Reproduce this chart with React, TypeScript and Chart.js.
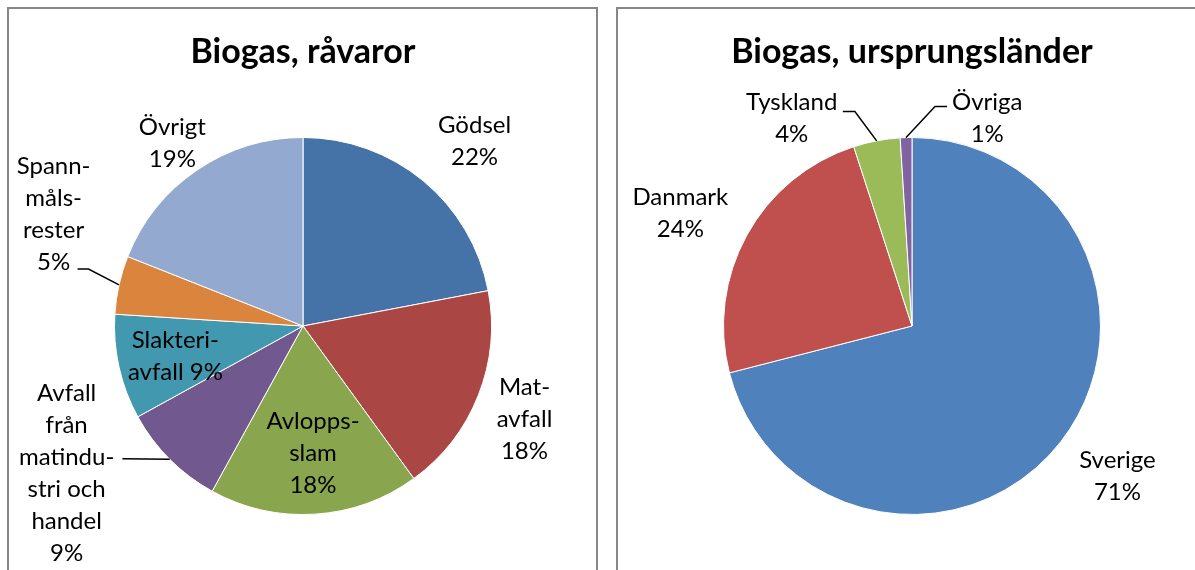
import React, { useEffect, useRef } from "react";
import { Chart, registerables } from "chart.js";

Chart.register(...registerables);

// ---------- data ----------
const leftTitle = "Biogas, råvaror";
const leftCategories = [
  "Gödsel",
  "Matavfall",
  "Avloppsslam",
  "Avfall från matindustri och handel",
  "Slakteriavfall",
  "Spannmålsrester",
  "Övrigt",
];
const leftValues = [22, 18, 18, 9, 9, 5, 19];
const leftLabelLines = [
  ["Gödsel", "{p}"],
  ["Mat-", "avfall", "{p}"],
  ["Avlopps-", "slam", "{p}"],
  ["Avfall", "från", "matindu-", "stri och", "handel", "{p}"],
  ["Slakteri-", "avfall {p}"],
  ["Spann-", "måls-", "rester", "{p}"],
  ["Övrigt", "{p}"],
];

const rightTitle = "Biogas, ursprungsländer";
const rightCategories = ["Sverige", "Danmark", "Tyskland", "Övriga"];
const rightValues = [71, 24, 4, 1];
const rightLabelLines = [
  ["Sverige", "{p}"],
  ["Danmark", "{p}"],
  ["Tyskland", "{p}"],
  ["Övriga", "{p}"],
];

// ---------- styles / layout ----------
const leftColors = ["#4573A7", "#AA4644", "#89A54E", "#71588F", "#4198AF", "#DB843D", "#93A9CF"];
const rightColors = ["#4F81BD", "#C0504D", "#9BBB59", "#8064A2"];

// label centres, in units of the pie radius, relative to the pie centre
const leftLabelPos: [number, number][] = [
  [0.91, -0.979],
  [1.175, 0.497],
  [0.053, 0.677],
  [-1.254, 0.783],
  [-0.677, 0.161],
  [-1.323, -0.593],
  [-0.693, -0.971],
];
const leftLeaders: ([number, number][] | null)[] = [
  null,
  null,
  null,
  [[-0.958, 0.704]],
  null,
  [
    [-1.196, -0.302],
    [-1.138, -0.302],
  ],
  null,
];
const rightLabelPos: [number, number][] = [
  [1.09, 0.798],
  [-1.229, -0.596],
  [-0.638, -1.104],
  [0.399, -1.104],
];
const rightLeaders: ([number, number][] | null)[] = [
  null,
  null,
  [
    [-0.367, -1.138],
    [-0.303, -1.138],
  ],
  [
    [0.186, -1.165],
    [0.122, -1.165],
  ],
];

const FONT = "Lato, 'Open Sans', 'DejaVu Sans', sans-serif";

const sliceLabels = {
  id: "sliceLabels",
  afterDatasetsDraw(chart: any, _args: any, opts: any) {
    const meta = chart.getDatasetMeta(0);
    const ctx = chart.ctx as CanvasRenderingContext2D;
    const values = chart.data.datasets[0].data as number[];
    const total = values.reduce((a, b) => a + b, 0);
    ctx.save();
    ctx.font = `${opts.size}px ${FONT}`;
    ctx.fillStyle = "#000";
    ctx.textAlign = "center";
    ctx.textBaseline = "middle";
    ctx.strokeStyle = "#000";
    ctx.lineWidth = 1.5;
    meta.data.forEach((arc: any, i: number) => {
      const p = arc.getProps(["x", "y", "startAngle", "endAngle", "outerRadius"], true);
      const R = p.outerRadius;
      const mid = (p.startAngle + p.endAngle) / 2;
      const pct = Math.round((values[i] / total) * 100) + "%";
      const lines: string[] = opts.lines[i].map((s: string) => s.replace("{p}", pct));
      const [ux, uy] = opts.positions[i];
      const cx = p.x + ux * R;
      const cy = p.y + uy * R;
      const lh = opts.lineHeight;
      lines.forEach((ln, k) => {
        ctx.fillText(ln, cx, cy + (k - (lines.length - 1) / 2) * lh);
      });
      const leader = opts.leaders[i];
      if (leader) {
        ctx.beginPath();
        ctx.moveTo(p.x + leader[0][0] * R, p.y + leader[0][1] * R);
        for (let k = 1; k < leader.length; k++) {
          ctx.lineTo(p.x + leader[k][0] * R, p.y + leader[k][1] * R);
        }
        ctx.lineTo(p.x + Math.cos(mid) * R, p.y + Math.sin(mid) * R);
        ctx.stroke();
      }
    });
    ctx.restore();
  },
};

type PieProps = {
  title: string;
  categories: string[];
  values: number[];
  colors: string[];
  lines: string[][];
  positions: [number, number][];
  leaders: ([number, number][] | null)[];
  width: number;
  height: number;
  padLeft: number;
  padRight: number;
  padBottom: number;
};

function PieChart(props: PieProps) {
  const ref = useRef<HTMLCanvasElement | null>(null);
  useEffect(() => {
    if (!ref.current) return;
    const chart = new Chart(ref.current, {
      type: "pie",
      data: {
        labels: props.categories,
        datasets: [
          {
            data: props.values,
            backgroundColor: props.colors,
            borderColor: "#ffffff",
            borderWidth: 1,
          },
        ],
      },
      options: {
        animation: false,
        responsive: false,
        devicePixelRatio: 1,
        events: [],
        layout: {
          padding: { left: props.padLeft, right: props.padRight, top: 0, bottom: props.padBottom },
        },
        plugins: {
          legend: { display: false },
          tooltip: { enabled: false },
          title: {
            display: true,
            text: props.title,
            color: "#000",
            font: { family: FONT, size: 34, weight: "bold", lineHeight: 1.2 },
            padding: { top: 22.6, bottom: 64.6 },
          },
          sliceLabels: {
            size: 24,
            lineHeight: 32,
            lines: props.lines,
            positions: props.positions,
            leaders: props.leaders,
          },
        } as any,
      },
      plugins: [sliceLabels],
    });
    return () => chart.destroy();
  }, []);
  return (
    <canvas
      ref={ref}
      width={props.width}
      height={props.height}
      style={{ display: "block", width: props.width, height: props.height }}
    />
  );
}

export default function App() {
  useEffect(() => {
    document.body.style.overflow = "hidden";
  }, []);
  const border = "2px solid #878787";
  return (
    <div>
      <div
        style={{
          position: "absolute",
          left: 7,
          top: 7,
          width: 587,
          height: 561,
          borderTop: border,
          borderLeft: border,
          borderRight: border,
          background: "#fff",
        }}
      >
        <PieChart
          title={leftTitle}
          categories={leftCategories}
          values={leftValues}
          colors={leftColors}
          lines={leftLabelLines}
          positions={leftLabelPos}
          leaders={leftLeaders}
          width={587}
          height={561}
          padLeft={105}
          padRight={104}
          padBottom={55}
        />
      </div>
      <div
        style={{
          position: "absolute",
          left: 616,
          top: 7,
          width: 577,
          height: 561,
          borderTop: border,
          borderLeft: border,
          background: "#fff",
        }}
      >
        <PieChart
          title={rightTitle}
          categories={rightCategories}
          values={rightValues}
          colors={rightColors}
          lines={rightLabelLines}
          positions={rightLabelPos}
          leaders={rightLeaders}
          width={577}
          height={561}
          padLeft={105}
          padRight={94}
          padBottom={55}
        />
      </div>
    </div>
  );
}
